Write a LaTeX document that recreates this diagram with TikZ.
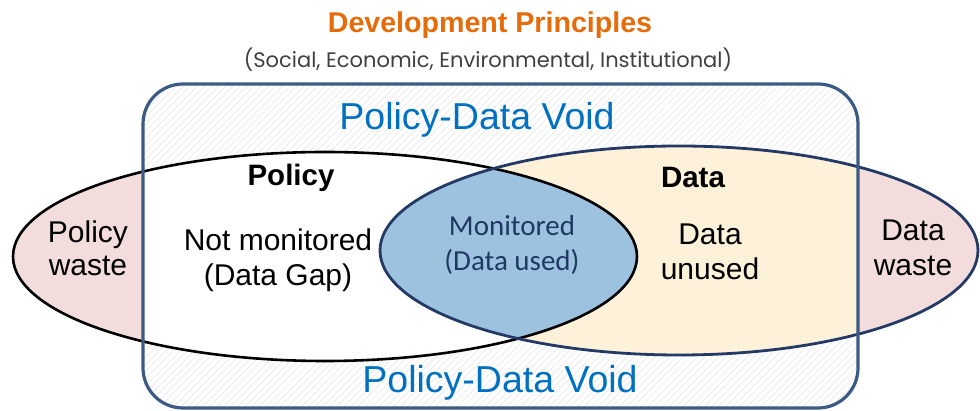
\documentclass[tikz,border=0pt]{standalone}
\usepackage{fontspec}
\setmainfont{Liberation Sans}
\newfontfamily\calfont{Carlito}
\newfontfamily\geofont{Poppins}
\usetikzlibrary{patterns.meta}
\definecolor{pinkfill}{RGB}{242,221,220}
\definecolor{creamfill}{RGB}{253,241,217}
\definecolor{lensblue}{RGB}{157,194,224}
\definecolor{rectblue}{RGB}{59,90,132}
\definecolor{navy}{RGB}{35,58,102}
\definecolor{voidblue}{RGB}{0,112,192}
\definecolor{titleorange}{RGB}{228,108,10}
\definecolor{subgray}{RGB}{64,64,64}
\definecolor{lenstext}{RGB}{31,56,100}
\tikzset{
  lbl/.style={align=center, text=black, inner sep=0pt},
  voidlbl/.style={text=voidblue, inner sep=0pt, font=\fontsize{37.5}{42}\selectfont},
}
\begin{document}
\begin{tikzpicture}[x=1pt,y=-1pt]
\useasboundingbox (0,0) rectangle (980,411);
\def\polpath{(325,256.5) ellipse [x radius=312pt, y radius=104.5pt]}
\def\datpath{(679,250.5) ellipse [x radius=299pt, y radius=104.5pt]}
\def\rectpath{[rounded corners=40pt] (143,84) rectangle (858,408)}
% frame background with hatch
\path[fill=white] \rectpath;
\path[pattern={Lines[angle=45,distance=5pt,line width=0.5pt]}, pattern color=gray!22] \rectpath;
% ellipses outside frame: pink
\path[fill=pinkfill] \polpath;
\path[fill=pinkfill] \datpath;
% inside frame
\begin{scope}
  \clip \rectpath;
  \path[fill=white] \polpath;
  \path[fill=creamfill] \datpath;
\end{scope}
% intersection lens
\begin{scope}
  \clip \polpath;
  \path[fill=lensblue] \datpath;
\end{scope}
% outlines
\draw[black, line width=2.6pt] \polpath;
\draw[navy, line width=2.8pt] \datpath;
\draw[rectblue, line width=3.2pt] \rectpath;
% texts
\node[text=titleorange, font=\bfseries\fontsize{28.6}{32}\selectfont, inner sep=0pt] (title) at (490,25) {Development Principles};
\node[text=subgray, font=\geofont\fontsize{21}{24}\selectfont, inner sep=0pt] (subtitle) at (488,60) {(Social, Economic, Environmental, Institutional)};
\node[voidlbl] (voidtop) at (477,120) {Policy-Data Void};
\node[voidlbl] (voidbot) at (500,383) {Policy-Data Void};
\node[lbl, font=\bfseries\fontsize{29.5}{33}\selectfont] (policyhead) at (291,178) {Policy};
\node[lbl, font=\bfseries\fontsize{29.5}{33}\selectfont] (datahead) at (693,177) {Data};
\node[lbl, font=\fontsize{30}{35}\selectfont] (notmon) at (278,260.5) {Not monitored\\(Data Gap)};
\node[lbl, font=\fontsize{30}{33}\selectfont] (polwaste) at (88,248.5) {Policy\\waste};
\node[lbl, font=\fontsize{30}{35}\selectfont] (unused) at (710,251.5) {Data\\unused};
\node[lbl, font=\fontsize{30}{35}\selectfont] (datwaste) at (913,247.5) {Data\\waste};
\node[lbl, text=lenstext, font=\calfont\fontsize{29}{35}\selectfont] (monitored) at (512,244.5) {Monitored\\(Data used)};
\end{tikzpicture}
\end{document}
